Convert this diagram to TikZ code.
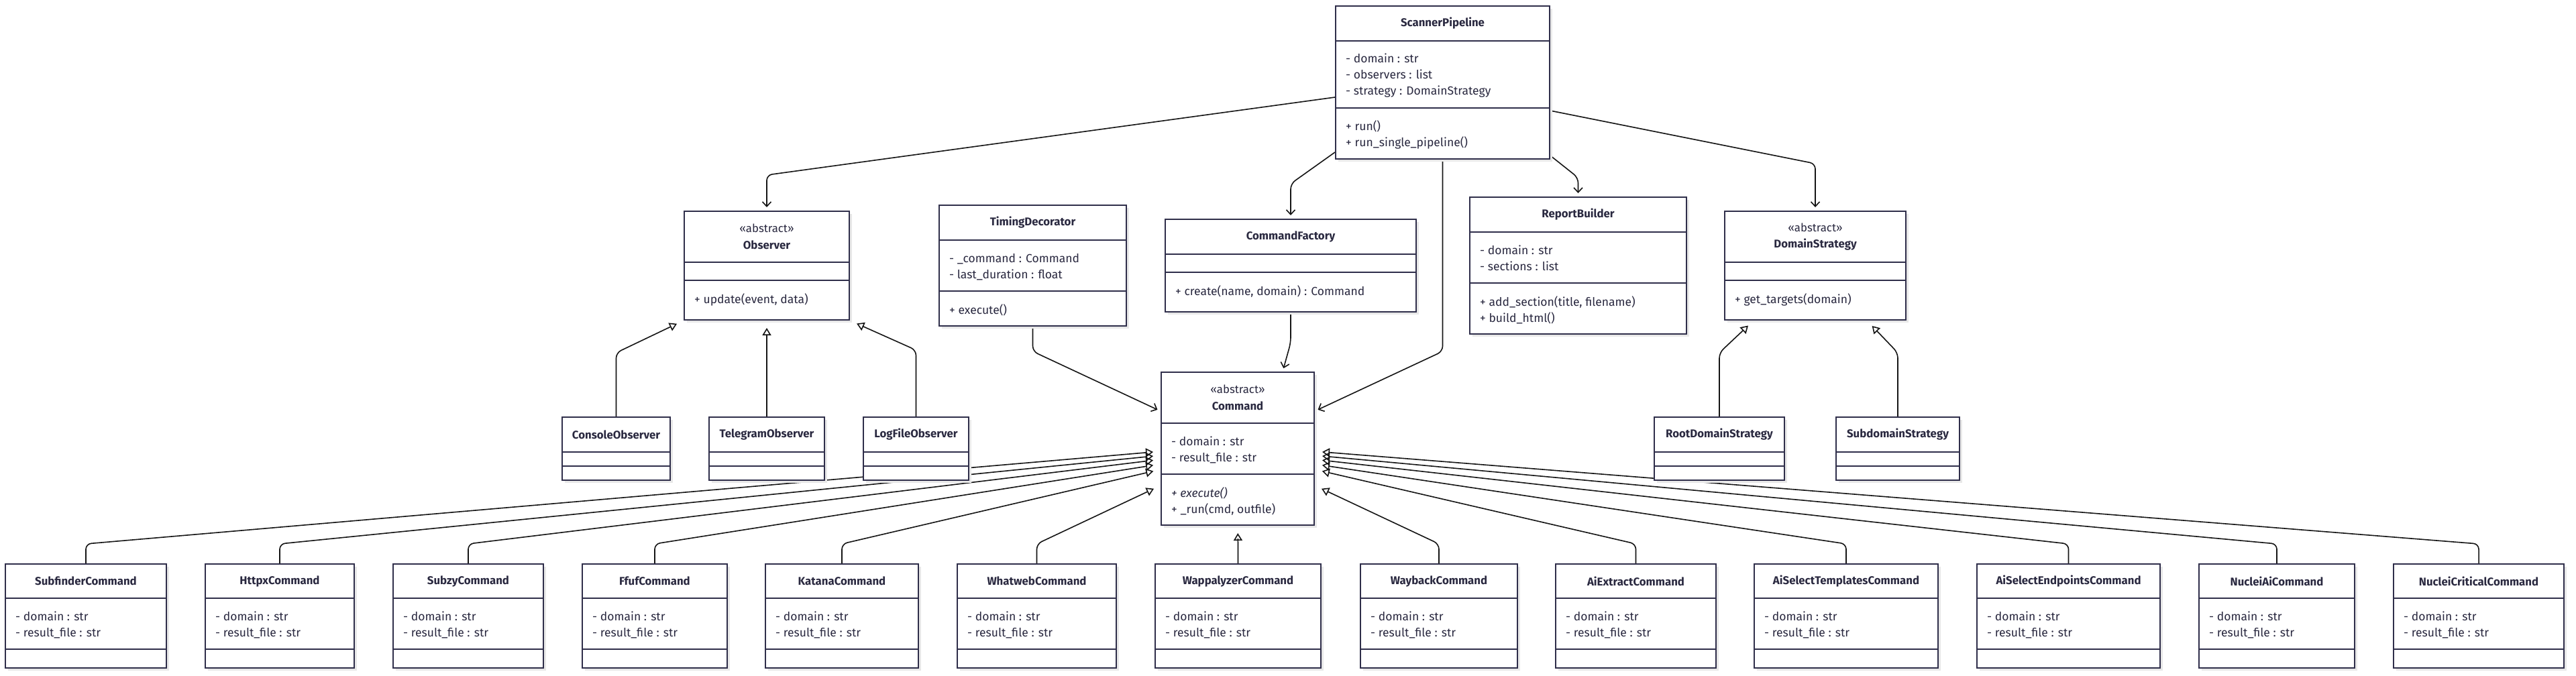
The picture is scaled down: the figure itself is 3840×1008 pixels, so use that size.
\documentclass[tikz,border=0pt]{standalone}
\usepackage{fontspec}
\setmainfont{Fira Sans}
\usetikzlibrary{arrows.meta,shadows}
\definecolor{umlnavy}{HTML}{2F2E4A}
\definecolor{umltext}{HTML}{2A2940}
\definecolor{umlline}{HTML}{141414}
\pgfdeclarelayer{bg}
\pgfsetlayers{bg,main}
\tikzset{
  classbox/.style={draw=umlnavy,line width=2pt,fill=white,inner sep=0pt,
    drop shadow={shadow xshift=4pt,shadow yshift=-4pt,fill=black!9,opacity=1}},
  classline/.style={draw=umlnavy,line width=2pt},
  clstitle/.style={font=\fontsize{16.8}{24.5}\selectfont\bfseries,text=umltext,align=center,inner sep=0pt},
  member/.style={anchor=west,text=umltext,inner sep=0pt,text height=12pt,text depth=0pt},
  rel/.style={draw=umlline,line width=1.6pt,rounded corners=8pt},
  inherit/.style={rel,-{Triangle[open,length=11pt,width=13pt]},shorten >=11pt},
  assoc/.style={rel,-{Straight Barb[length=7pt,width=13pt]},shorten >=5pt}
}
\newcommand{\umlclass}[8]{%
  \node[classbox,minimum width={#4-#2},minimum height={#5-#3}] (#1) at ({(#2+#4)/2},{(#3+#5)/2}) {};
  \draw[classline] (#2,#6) -- (#4,#6) (#2,#7) -- (#4,#7);
  \node[clstitle] (#1-name) at ({(#2+#4)/2},{(#3+#6)/2}) {#8};}
\newcommand{\umlmembers}[4]{%
  \foreach \m [count=\i] in {#4} \node[member] (#1\i) at ({#2},{#3+24*(\i-1)}) {\m};}

\begin{document}
\begin{tikzpicture}[x=1pt,y=-1pt,font=\fontsize{17.5}{24}\selectfont]
\useasboundingbox (0,0) rectangle (3840,1008);
\begin{pgfonlayer}{bg}\fill[white] (0,0) rectangle (3840,1008);\end{pgfonlayer}

\umlclass{sp}{1991}{9}{2310}{237}{61}{161}{ScannerPipeline}
\umlmembers{sp-a}{2006}{88}{{- domain : str},{- observers : list},{- strategy : DomainStrategy}}
\umlmembers{sp-m}{2006}{189}{{+ run()},{+ run\_single\_pipeline()}}

\umlclass{obs}{1020}{315}{1266}{477}{391}{418}{{\mdseries«abstract»}\\Observer}
\umlmembers{obs-m}{1035}{446}{{+ update(event, data)}}

\umlclass{td}{1400}{306}{1679}{486}{358}{434}{TimingDecorator}
\umlmembers{td-a}{1415}{385}{{- \_command : Command},{- last\_duration : float}}
\umlmembers{td-m}{1415}{462}{{+ execute()}}

\umlclass{cf}{1737}{327}{2111}{465}{379}{406}{CommandFactory}
\umlmembers{cf-m}{1752}{434}{{+ create(name, domain) : Command}}

\umlclass{rb}{2191}{294}{2514}{498}{346}{422}{ReportBuilder}
\umlmembers{rb-a}{2206}{373}{{- domain : str},{- sections : list}}
\umlmembers{rb-m}{2206}{450}{{+ add\_section(title, filename)},{+ build\_html()}}

\umlclass{ds}{2571}{315}{2841}{477}{391}{418}{{\mdseries«abstract»}\\DomainStrategy}
\umlmembers{ds-m}{2586}{446}{{+ get\_targets(domain)}}

\umlclass{cmd}{1731}{555}{1959}{783}{631}{707}{{\mdseries«abstract»}\\Command}
\umlmembers{cmd-a}{1746}{658}{{- domain : str},{- result\_file : str}}
\umlmembers{cmd-m}{1746}{735}{{\itshape + execute()},{+ \_run(cmd, outfile)}}

\foreach \n/\l/\r/\name in {co/838/999/ConsoleObserver,tg/1057/1229/TelegramObserver,lf/1287/1444/LogFileObserver,rd/2466/2660/RootDomainStrategy,sd/2737/2921/SubdomainStrategy}
  \umlclass{\n}{\l}{622}{\r}{716}{674}{695}{\name};

\foreach \n/\l/\r/\name/\side/\dy in {subfinder/8/248/SubfinderCommand/west/4,httpx/306/528/HttpxCommand/west/10,subzy/586/810/SubzyCommand/west/16,ffuf/868/1084/FfufCommand/west/23,katana/1141/1369/KatanaCommand/west/31,whatweb/1427/1664/WhatwebCommand/west/55,wappalyzer/1722/1969/WappalyzerCommand/south/0,wayback/2028/2262/WaybackCommand/east/55,aiextract/2319/2558/AiExtractCommand/east/31,aitemplates/2615/2889/AiSelectTemplatesCommand/east/23,aiendpoints/2947/3220/AiSelectEndpointsCommand/east/16,nucleiai/3278/3510/NucleiAiCommand/east/10,nucleicrit/3568/3822/NucleiCriticalCommand/east/4}{
  \umlclass{\n}{\l}{841}{\r}{996}{892}{968}{\name}
  \umlmembers{\n-a}{\l+15}{919}{{- domain : str},{- result\_file : str}}
  \begin{pgfonlayer}{bg}\draw[inherit] (\n.north) -- ++(0,-29) -- ([yshift={-\dy*1pt}]cmd.\side);\end{pgfonlayer}
}

\begin{pgfonlayer}{bg}
\draw[assoc] ([yshift=-22pt]sp.west) -- ([yshift=53pt]obs.north) -- (obs.north);
\draw[assoc] ([yshift=-104pt]sp.west) -- ([yshift=52pt]cf.north) -- (cf.north);
\draw[assoc] (sp.south) -- ++(0,286) -- ([yshift=56pt]cmd.east);
\draw[assoc] ([yshift=-109pt]sp.east) -- ([yshift=28pt]rb.north) -- (rb.north);
\draw[assoc] ([yshift=-42pt]sp.east) -- ([yshift=70pt]ds.north) -- (ds.north);
\draw[assoc] (td.south) -- ++(0,37) -- ([yshift=56pt]cmd.west);
\draw[assoc] (cf.south) -- ++(0,45) -- ([xshift=67pt]cmd.north);
\draw[inherit] (co.north) -- ++(0,-95) -- (obs.south west);
\draw[inherit] (tg.north) -- (obs.south);
\draw[inherit] (lf.north) -- ++(0,-99) -- (obs.south east);
\draw[inherit] (rd.north) -- ++(0,-95) -- ([xshift=-92pt]ds.south);
\draw[inherit] (sd.north) -- ++(0,-95) -- ([xshift=77pt]ds.south);
\end{pgfonlayer}
\end{tikzpicture}
\end{document}
